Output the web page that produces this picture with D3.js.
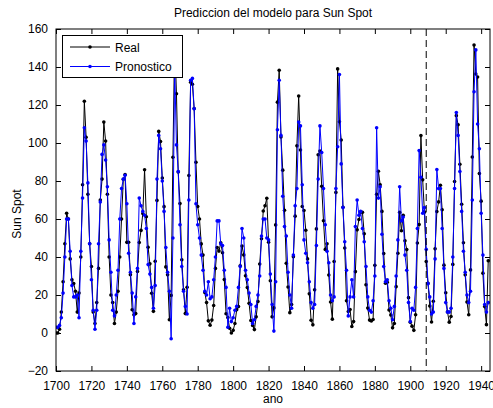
<!DOCTYPE html>
<html><head><meta charset="utf-8">
<script src="https://cdn.jsdelivr.net/npm/d3@7"></script>
<style>body{margin:0;background:#fff}svg{display:block}text{font-family:"Liberation Sans",Arial,Helvetica,sans-serif;font-size:12px;fill:#000}</style>
</head><body><svg id="c" width="493" height="408"></svg>
<script>
const startYear = 1700;
const splitYear = 1909;
const xTicks = [1700,1720,1740,1760,1780,1800,1820,1840,1860,1880,1900,1920,1940];
const yTicks = [-20,0,20,40,60,80,100,120,140,160];
const realValues = [
0,0,2,11,27,47,63,60,39,28,
26,22,11,21,40,78,122,103,73,47,
35,11,5,16,34,70,81,111,101,73,
40,20,16,5,11,22,40,60,80.9,83.4,
47.7,47.8,30.7,12.2,9.6,10.2,32.4,47.6,54.0,62.9,
85.9,61.2,45.1,36.4,20.9,11.4,37.8,69.8,106.1,100.8,
81.6,66.5,34.8,30.6,7.0,19.8,92.5,154.4,125.9,84.8,
68.1,38.5,22.8,10.2,24.1,82.9,132.0,130.9,118.1,89.9,
66.6,60.0,46.9,41.0,21.3,16.0,6.4,4.1,6.8,14.5,
34.0,45.0,43.1,47.5,42.2,28.1,10.1,8.1,2.5,0.0,
1.4,5.0,12.2,13.9,35.4,45.8,41.1,30.1,23.9,15.6,
6.6,4.0,1.8,8.5,16.6,36.3,49.6,64.2,67.0,70.9,
47.8,27.5,8.5,13.2,56.9,121.5,138.3,103.2,85.7,64.6,
36.7,24.2,10.7,15.0,40.1,61.5,98.5,124.7,96.3,66.6,
64.5,54.1,39.0,20.6,6.7,4.3,22.7,54.8,93.8,95.8,
77.2,59.1,44.0,47.0,30.5,16.3,7.3,37.6,74.0,139.0,
111.2,101.6,66.2,44.7,17.0,11.3,12.4,3.4,6.0,32.3,
54.3,59.7,63.7,63.5,52.2,25.4,13.1,6.8,6.3,7.1,
35.6,73.0,85.1,78.0,64.0,41.8,26.2,26.7,12.1,9.5,
2.7,5.0,24.4,42.0,63.5,53.8,62.0,48.5,43.9,18.6,
5.7,3.6,1.4,9.6,47.4,57.1,103.9,80.6,63.6,37.6,
26.1,14.2,5.8,16.7,44.3,63.9,69.0,77.8,64.9,35.7,
21.2,11.1,5.7,8.7,36.1,79.7,114.4,109.6,88.8,67.8,
47.5,30.6,16.3,9.6,33.2,92.6,151.6,136.3,134.7,83.9,
69.4,31.5,13.9,4.4,38.0];
const forecastValues = [
3,3,4,8,21,40,60,60,43,25,
19,19,20,8,43,71,108,101,79,47,
28,12,2,12,47,69,94,99,91,77,
49,32,12,9,20,33,60,76,81,83,
68,42,32,21,5,19,34,71,67,64,
62,55,36,31,24,13,25,81,104,97,
80,64,45,32,22,-3,50,140,99,85,
57,35,22,14,10,70,133,134,118,68,
57,50,41,33,22,20,27,18,19,28,
40,59,59,47,46,33,24,3,13,6,
8,12,14,24,35,55,50,33,28,21,
15,5,7,14,20,30,51,60,60,50,
49,31,15,1,27,107,133,104,72,56,
51,32,20,13,41,67,76,111,109,78,
49,42,37,27,16,13,15,46,81,109,
95,76,57,43,37,20,17,19,76,98,
136,89,66,48,33,9,19,28,19,56,
70,62,64,55,48,35,19,12,11,17,
30,108,71,77,52,35,27,28,17,13,
7,14,30,49,77,59,61,41,33,16,
6,13,12,24,55,96,82,63,66,44,
26,19,10,11,39,86,76,76,55,34,
16,11,11,13,40,76,116,104,85,64,
43,32,20,16,22,70,127,149,110,97,
63,41,15,11,16];
const seriesNames = ["Real","Pronostico"];
const seriesColors = ["#000000","#0000ff"];

const svg = d3.select("#c");
const L=56, R=490, T=29, B=371;
const x = d3.scaleLinear().domain([1700,1945]).range([L,R]);
const y = d3.scaleLinear().domain([-20,160]).range([B,T]);

svg.append("rect").attr("x",0).attr("y",0).attr("width",493).attr("height",408).attr("fill","#fff");

svg.append("clipPath").attr("id","pc").append("rect")
  .attr("x",L).attr("y",T).attr("width",R-L).attr("height",B-T);

const plot = svg.append("g").attr("clip-path","url(#pc)");
const line = d3.line().x((d,i)=>x(startYear+i)).y(d=>y(d));
[realValues, forecastValues].forEach((vals,k)=>{
  plot.append("path").datum(vals).attr("d",line).attr("fill","none")
    .attr("stroke",seriesColors[k]).attr("stroke-width",1);
  plot.selectAll(null).data(vals).enter().append("circle")
    .attr("cx",(d,i)=>x(startYear+i)).attr("cy",d=>y(d)).attr("r",1.8)
    .attr("fill",seriesColors[k]);
});

plot.append("line").attr("x1",x(splitYear)).attr("x2",x(splitYear)).attr("y1",T).attr("y2",B)
  .attr("stroke","#000").attr("stroke-width",1).attr("stroke-dasharray","7,4");

const tk = 5;
svg.append("g").attr("transform",`translate(0,${B})`)
  .call(d3.axisBottom(x).tickValues(xTicks).tickSizeInner(-tk).tickSizeOuter(0).tickPadding(10).tickFormat(d3.format("d")))
  .call(g=>{g.select(".domain").remove();g.selectAll("text").attr("font-size",12).attr("font-family","Liberation Sans, Arial");});
svg.append("g").attr("transform",`translate(0,${T})`)
  .call(d3.axisTop(x).tickValues(xTicks).tickSizeInner(-tk).tickSizeOuter(0).tickFormat(""))
  .call(g=>g.select(".domain").remove());
svg.append("g").attr("transform",`translate(${L},0)`)
  .call(d3.axisLeft(y).tickValues(yTicks).tickSizeInner(-tk).tickSizeOuter(0).tickPadding(8))
  .call(g=>{g.select(".domain").remove();g.selectAll("text").attr("font-size",12).attr("font-family","Liberation Sans, Arial");});
svg.append("g").attr("transform",`translate(${R},0)`)
  .call(d3.axisRight(y).tickValues(yTicks).tickSizeInner(-tk).tickSizeOuter(0).tickFormat(""))
  .call(g=>g.select(".domain").remove());
svg.append("rect").attr("x",L).attr("y",T).attr("width",R-L).attr("height",B-T)
  .attr("fill","none").attr("stroke","#000").attr("stroke-width",1);

svg.append("text").attr("x",(L+R)/2).attr("y",17).attr("text-anchor","middle").text("Prediccion del modelo para Sun Spot");
svg.append("text").attr("x",(L+R)/2).attr("y",403).attr("text-anchor","middle").text("ano");
svg.append("text").attr("transform",`translate(21,214) rotate(-90)`).attr("text-anchor","middle").text("Sun Spot");

const lg = svg.append("g");
lg.append("rect").attr("x",62.5).attr("y",35.5).attr("width",120).attr("height",42)
  .attr("fill","#fff").attr("stroke","#000").attr("stroke-width",1);
seriesNames.forEach((n,k)=>{
  const yy = 47 + k*19.5;
  lg.append("line").attr("x1",70).attr("x2",110).attr("y1",yy).attr("y2",yy).attr("stroke",seriesColors[k]).attr("stroke-width",1);
  lg.append("circle").attr("cx",90).attr("cy",yy).attr("r",1.8).attr("fill",seriesColors[k]);
  lg.append("text").attr("x",115).attr("y",yy+4.5).attr("font-size",13).text(n);
});
</script></body></html>
